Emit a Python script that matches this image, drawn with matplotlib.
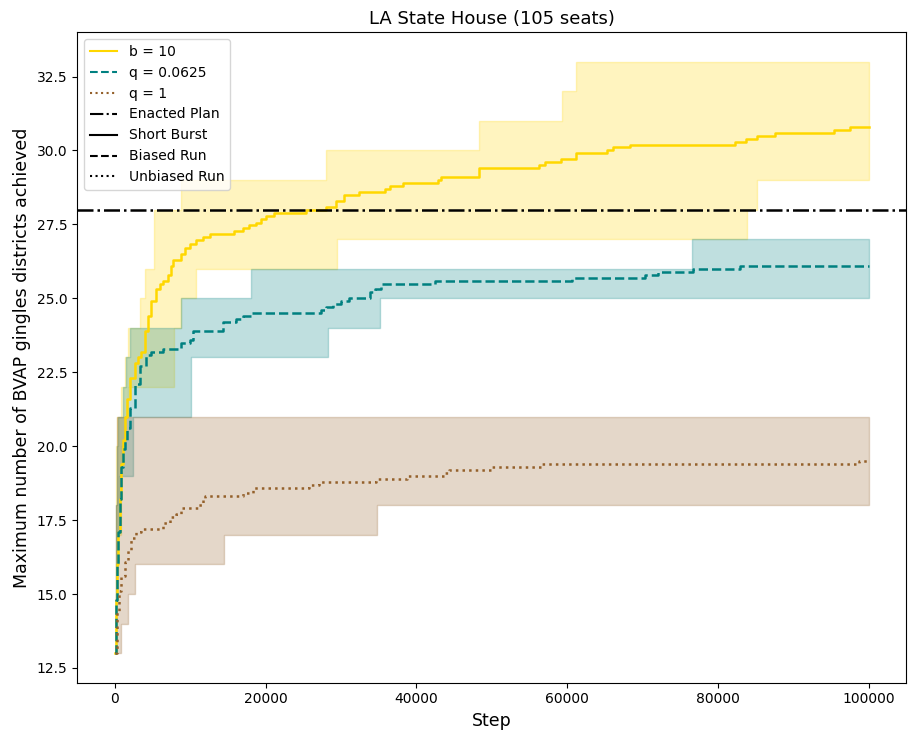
import numpy as np
import matplotlib
matplotlib.use("Agg")
import matplotlib.pyplot as plt
from matplotlib.lines import Line2D

# mean curves (step, value)
b10_steps = [0, 130, 260, 440, 660, 880, 1100, 1320, 1550, 1980, 2650, 3080, 3530,
             3970, 4410, 4850, 5510, 5950, 6390, 7050, 7490, 7720, 8820, 9260, 9920,
             10800, 11680, 12570, 15870, 16970, 17860, 18740, 19400, 20060, 21160,
             25350, 28000, 29320, 30420, 32410, 35850, 36470, 38230, 42820, 43210,
             48280, 56310, 57100, 59220, 61150, 65250, 66140, 68340, 82230, 83770,
             85230, 87650, 95370, 97580, 100000]
b10_mean = [13.0, 14.8, 16.0, 17.1, 18.2, 19.4, 20.2, 21.0, 21.6, 22.3, 22.8, 23.0, 23.2,
            23.9, 24.4, 24.9, 25.3, 25.5, 25.6, 25.8, 26.1, 26.3, 26.5, 26.7, 26.85,
            26.96, 27.06, 27.17, 27.27, 27.38, 27.47, 27.55, 27.67, 27.78, 27.89,
            27.98, 28.1, 28.3, 28.5, 28.6, 28.7, 28.8, 28.9, 29.0, 29.1,
            29.4, 29.5, 29.6, 29.7, 29.9, 30.0, 30.1, 30.2, 30.3, 30.4,
            30.5, 30.6, 30.7, 30.8, 30.8]

q0625_steps = [0, 130, 260, 440, 660, 880, 1100, 1320, 1550, 1980, 2650, 3310, 4190,
               4850, 6390, 8820, 9920, 10360, 14330, 16100, 16970, 18080, 27340,
               28000, 28880, 29980, 31090, 33820, 34520, 35270, 42460, 60710, 70330,
               72090, 76720, 82890, 100000]
q0625_mean = [13.0, 14.8, 16.0, 17.1, 18.2, 19.3, 19.9, 20.2, 20.6, 21.3, 22.1, 22.7, 23.1,
              23.2, 23.3, 23.5, 23.6, 23.9, 24.2, 24.3, 24.4, 24.5, 24.6,
              24.7, 24.8, 24.9, 25.0, 25.2, 25.3, 25.5, 25.6, 25.7, 25.8,
              25.9, 26.0, 26.1, 26.1]

q1_steps = [0, 220, 530, 880, 1320, 1760, 2200, 2870, 3530, 6390, 7280, 8160, 8820,
            11020, 11680, 11900, 16970, 18300, 25790, 27120, 34610, 38800, 43870,
            44310, 50040, 56650, 98770, 100000]
q1_mean = [13.0, 14.4, 15.1, 15.6, 16.1, 16.5, 16.9, 17.1, 17.2, 17.4, 17.6, 17.7, 17.9,
           18.0, 18.2, 18.3, 18.4, 18.6, 18.7, 18.8, 18.9, 19.0, 19.1,
           19.2, 19.3, 19.4, 19.5, 19.5]

# min / max envelopes
b10_band_steps = [0, 100, 200, 350, 880, 1320, 1760, 3300, 3970, 5200, 7900, 8800,
                  10800, 28000, 29450, 48280, 59300, 61150, 83900, 85200, 100000]
b10_lo = [13, 14, 16, 17, 20, 21, 22, 22, 22, 22, 24, 25,
          26, 26, 27, 27, 27, 27, 28, 29, 29]
b10_hi = [13, 17, 20, 21, 22, 23, 24, 25, 26, 28, 28, 29,
          29, 30, 30, 31, 32, 33, 33, 33, 33]

q0625_band_steps = [0, 150, 250, 300, 400, 500, 1100, 1450, 1980, 2400, 8820, 10140,
                    18080, 28220, 35140, 76590, 100000]
q0625_lo = [13, 15, 16, 17, 17, 19, 19, 19, 19, 21, 21, 23,
            23, 24, 25, 25, 25]
q0625_hi = [13, 18, 20, 20, 21, 21, 22, 23, 24, 24, 25, 25,
            26, 26, 26, 27, 27]

q1_band_steps = [0, 120, 220, 790, 1760, 2650, 14420, 34830, 100000]
q1_lo = [13, 13, 13, 14, 15, 16, 17, 18, 18]
q1_hi = [13, 18, 21, 21, 21, 21, 21, 21, 21]

enacted = 28

yellow = '#FFD700'
teal = '#008080'
brown = '#94602a'

fig = plt.figure(figsize=(9.08, 7.31), dpi=100)
ax = fig.add_axes([0.085, 0.066, 0.913, 0.890])

ax.fill_between(b10_band_steps, b10_lo, b10_hi, step='post', color=yellow, alpha=0.25)
ax.fill_between(q0625_band_steps, q0625_lo, q0625_hi, step='post', color=teal, alpha=0.25)
ax.fill_between(q1_band_steps, q1_lo, q1_hi, step='post', color=brown, alpha=0.25)

ax.plot(b10_steps, b10_mean, color=yellow, lw=1.8, ls='-', drawstyle='steps-post')
ax.plot(q0625_steps, q0625_mean, color=teal, lw=1.8, ls='--', drawstyle='steps-post')
ax.plot(q1_steps, q1_mean, color=brown, lw=1.8, ls=':', drawstyle='steps-post')

ax.axhline(enacted, color='black', ls='-.', lw=1.8)

handles = [
    Line2D([], [], color=yellow, ls='-', lw=1.5, label='b = 10'),
    Line2D([], [], color=teal, ls='--', lw=1.5, label='q = 0.0625'),
    Line2D([], [], color=brown, ls=':', lw=1.5, label='q = 1'),
    Line2D([], [], color='black', ls='-.', lw=1.5, label='Enacted Plan'),
    Line2D([], [], color='black', ls='-', lw=1.5, label='Short Burst'),
    Line2D([], [], color='black', ls='--', lw=1.5, label='Biased Run'),
    Line2D([], [], color='black', ls=':', lw=1.5, label='Unbiased Run'),
]
ax.legend(handles=handles, loc='upper left', fontsize=10)

ax.set_title('LA State House (105 seats)', fontsize=13)
ax.set_xlabel('Step', fontsize=12.5)
ax.set_ylabel('Maximum number of BVAP gingles districts achieved', fontsize=12.5)
ax.tick_params(labelsize=10)

fig.savefig('out.png', dpi=100)
